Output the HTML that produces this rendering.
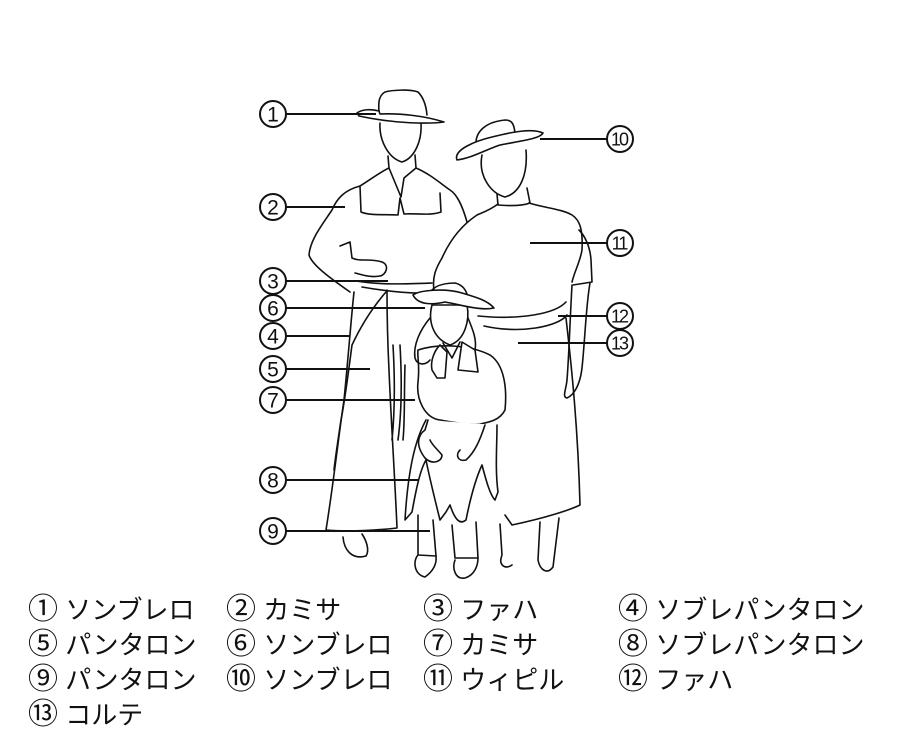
<!DOCTYPE html>
<html><head><meta charset="utf-8">
<style>
html,body{margin:0;padding:0;background:#fff;}
svg{display:block;}
.l{font-family:"Liberation Sans","Noto Sans CJK JP",sans-serif;font-size:26px;fill:#111;}
.c{font-size:30px;}
</style></head><body>
<svg width="900" height="750" viewBox="0 0 900 750" xmlns="http://www.w3.org/2000/svg">
<rect width="900" height="750" fill="#fff"/>
<g fill="none" stroke="#111" stroke-width="1.6" stroke-linejoin="round" stroke-linecap="round">
<!-- MAN -->
<path d="M379,111 C378,100 380,95 385,92 C392,90 410,89 418,92 C423,97 426,104 427,115"/>
<path d="M357,113 C362,109 372,109 379,111 L380,114 C400,113 425,116 444,122 C430,124 405,123 390,121 C380,120 368,118 359,116 Z" fill="#fff"/>
<path d="M380,123 C379,140 388,158 402,162 C415,158 422,140 421,124"/>
<path d="M388,156 L389,168 C380,172 370,180 360,186 C345,190 337,198 332,210 C322,225 310,240 309,255 C312,265 330,278 350,292"/>
<path d="M415,155 L416,168 C430,174 440,183 450,190 C458,195 463,208 467,222"/>
<path d="M360,186 L361,212 C370,216 385,214 398,215 L400,198 L404,214 C415,213 430,216 441,212 L440,193"/>
<path d="M389,168 L401,197 L404,178 L416,168"/>
<path d="M340,246 L350,242 L352,258 C360,262 370,258 382,262 C390,265 386,275 380,276 C370,278 360,274 355,273"/>
<path d="M356,281 C380,285 405,284 432,283"/>
<path d="M362,287 C385,291 410,294 430,293"/>
<path d="M354,292 C351,320 348,360 344,400 C338,440 334,480 326,530 C350,532 380,530 397,528 C395,480 391,420 389,370 C387,330 387,305 387,290"/>
<path d="M386,292 C372,308 360,328 352,345 C348,375 345,400 341,420 C338,440 335,460 334,470"/>
<path d="M393,345 C395,380 395,410 392,440"/>
<path d="M343,537 C344,550 352,560 366,556 C370,550 366,540 362,534"/>
<!-- WOMAN -->
<path d="M579,230 C584,235 590,245 591,260 L592,282 L573,285" />
<path d="M498,204 C490,210 484,212 477,215 C462,225 450,240 442,258 C436,268 432,277 434,290"/>
<path d="M529,203 C545,208 562,209 572,215 C580,220 583,230 582,250 C580,262 575,270 572,282"/>
<path d="M497,194 L498,205 C510,206 522,206 530,203 L527,188"/>
<path d="M572,285 C570,320 569,355 567,380 C566,390 562,397 567,398 C574,395 580,385 582,368 C585,340 586,305 590,283"/>
<path d="M478,316 C520,320 555,314 566,302"/>
<path d="M484,326 C520,334 558,327 567,315"/>
<path d="M566,318 C572,370 578,430 580,505 C570,510 545,518 512,525 L505,515"/>
<path d="M540,522 L538,560 C540,570 547,575 553,567 L559,518"/>
<path d="M500,524 L502,555 C498,565 505,570 512,565"/>
<path d="M482,155 C478,175 490,193 505,197 C520,193 528,175 526,150"/>
<path d="M476,143 C476,132 485,122 505,120 C512,120 514,124 515,133"/>
<path d="M457,160 C453,150 475,141 492,137 C512,132 532,128 543,133 C540,139 520,141 500,145 C485,150 472,158 457,160 Z" fill="#fff"/>
<!-- CHILD -->
<path d="M418,350 C440,343 470,345 490,355 C505,365 507,390 505,410 C500,420 490,422 480,424 C465,425 452,422 440,420 C425,418 416,400 418,382 C420,366 417,356 418,350 Z" fill="#fff"/>
<path d="M426,420 C415,440 408,470 405,520 L412,512 C416,490 420,470 426,460 C430,480 435,500 440,520 L446,512 L450,505 C455,520 460,525 466,520 C470,500 475,480 482,465 C486,480 490,495 495,500 L498,492 C495,470 497,445 497,425" fill="#fff"/>
<path d="M418,515 L418,555 L436,556 L433,520"/>
<path d="M452,525 L455,558 L478,558 L476,522"/>
<path d="M418,555 C412,562 415,575 425,577 C432,572 437,565 436,556"/>
<path d="M455,560 C452,568 455,580 465,578 C475,575 478,565 478,558"/>
<path d="M428,420 L425,430 C418,435 415,445 425,458 C432,465 442,462 442,455 C438,450 432,445 430,440"/>
<path d="M460,450 C455,455 458,462 466,460 C475,452 480,440 485,425"/>
<path d="M440,345 C435,350 430,360 432,370 L437,378 L445,378 L447,352 Z" fill="#fff"/>
<path d="M462,342 L458,370 L478,372 L475,350 Z" fill="#fff"/>
<path d="M443,343 L452,358 L460,342"/>
<path d="M430,318 C420,330 413,345 415,358 C417,365 425,366 430,360"/>
<path d="M468,318 C473,330 477,340 475,350"/>
<path d="M432,305 C428,320 432,338 450,345 C465,340 470,320 467,305 Z" fill="#fff"/>
<path d="M427,298 C430,288 440,283 455,283 C463,285 466,290 468,297"/>
<path d="M413,295 C420,290 445,288 462,293 C475,297 487,300 494,308 C480,311 462,305 445,302 C432,305 418,305 413,295 Z" fill="#fff"/>
<path d="M400,345 C402,380 402,410 398,440 M405,365 C404,395 405,420 403,440"/>
</g>
<!-- leader lines -->
<g stroke="#111" stroke-width="2">
<line x1="286" y1="114" x2="376" y2="114"/>
<line x1="540" y1="139" x2="607" y2="139"/>
<line x1="286" y1="207" x2="345" y2="207"/>
<line x1="530" y1="243" x2="607" y2="243"/>
<line x1="286" y1="281" x2="388" y2="281"/>
<line x1="286" y1="308" x2="425" y2="308"/>
<line x1="558" y1="316" x2="607" y2="316"/>
<line x1="518" y1="343" x2="607" y2="343"/>
<line x1="286" y1="336" x2="350" y2="336"/>
<line x1="286" y1="369" x2="370" y2="369"/>
<line x1="286" y1="400" x2="415" y2="400"/>
<line x1="286" y1="480" x2="418" y2="480"/>
<line x1="286" y1="531" x2="430" y2="531"/>
</g>
<g fill="#fff" stroke="#111" stroke-width="2">
<circle cx="273" cy="114" r="13"/><circle cx="273" cy="207" r="13"/><circle cx="273" cy="281" r="13"/>
<circle cx="273" cy="308" r="13"/><circle cx="273" cy="336" r="13"/><circle cx="273" cy="369" r="13"/>
<circle cx="273" cy="400" r="13"/><circle cx="273" cy="480" r="13"/><circle cx="273" cy="531" r="13"/>
<circle cx="620" cy="139" r="13"/><circle cx="620" cy="243" r="13"/><circle cx="620" cy="316" r="13"/><circle cx="620" cy="343" r="13"/>
</g>
<g font-family="Liberation Sans, sans-serif" font-size="21" text-anchor="middle" fill="#111">
<text x="273" y="121.5">1</text>
<text x="273" y="214.5">2</text>
<text x="273" y="288.5">3</text>
<text x="273" y="315.5">6</text>
<text x="273" y="343.5">4</text>
<text x="273" y="376.5">5</text>
<text x="273" y="407.5">7</text>
<text x="273" y="487.5">8</text>
<text x="273" y="538.5">9</text>
<g font-size="18" letter-spacing="-2">
<text x="619" y="145.5">10</text>
<text x="619" y="249.5">11</text>
<text x="619" y="322.5">12</text>
<text x="619" y="349.5">13</text>
</g>
</g>
<g class="l">
<text x="28" y="619"><tspan class="c">①</tspan> ソンブレロ</text>
<text x="226" y="619"><tspan class="c">②</tspan> カミサ</text>
<text x="423" y="619"><tspan class="c">③</tspan> ファハ</text>
<text x="618" y="619"><tspan class="c">④</tspan> ソブレパンタロン</text>
<text x="28" y="654"><tspan class="c">⑤</tspan> パンタロン</text>
<text x="226" y="654"><tspan class="c">⑥</tspan> ソンブレロ</text>
<text x="423" y="654"><tspan class="c">⑦</tspan> カミサ</text>
<text x="618" y="654"><tspan class="c">⑧</tspan> ソブレパンタロン</text>
<text x="28" y="689"><tspan class="c">⑨</tspan> パンタロン</text>
<text x="226" y="689"><tspan class="c">⑩</tspan> ソンブレロ</text>
<text x="423" y="689"><tspan class="c">⑪</tspan> ウィピル</text>
<text x="618" y="689"><tspan class="c">⑫</tspan> ファハ</text>
<text x="28" y="724"><tspan class="c">⑬</tspan> コルテ</text>
</g>
</svg>
</body></html>
